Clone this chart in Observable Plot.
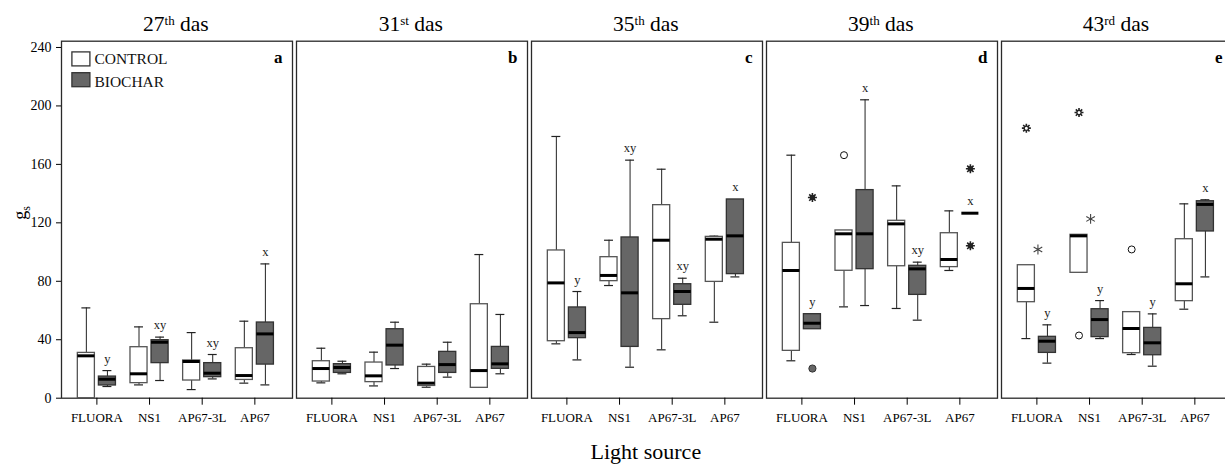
<!DOCTYPE html>
<html><head><meta charset="utf-8">
<script src="https://cdn.jsdelivr.net/npm/d3@7"></script>
<script src="https://cdn.jsdelivr.net/npm/@observablehq/plot@0.6"></script>
<style>
body{margin:0;overflow:hidden;background:#fff;}
#wrap{position:relative;width:1225px;height:467px;overflow:hidden;background:#fff;}
#wrap svg{max-width:none !important;font-family:"Liberation Serif","Times New Roman",serif;background:#fff;}
</style></head><body><div id="wrap"></div>
<script>
// ---------- data ----------
const dayNumbers = ["27", "31", "35", "39", "43"];
const daySuffixes = ["th", "st", "th", "th", "rd"];
const dayWord = "das";
const panelLetters = ["a", "b", "c", "d", "e"];
const sources = ["FLUORA", "NS1", "AP67-3L", "AP67"];
const treatments = ["CONTROL", "BIOCHAR"];
const yTicks = [0, 40, 80, 120, 160, 200, 240];
const yLabel = "gs";
const xLabel = "Light source";

// [lower whisker, Q1, median, Q3, upper whisker] per light source
const control27 = [[0, 0, 29, 31, 61.8], [9.1, 10.3, 16.7, 34.9, 48.8], [5.9, 12.1, 25.1, 25.8, 44.9], [10.3, 12.5, 15.5, 34.2, 52.7]];
const biochar27 = [[8.0, 8.7, 13.0, 14.8, 18.9], [12.1, 24.0, 38.3, 39.7, 41.8], [13.2, 14.4, 17.1, 24.0, 29.9], [9.1, 23.0, 44.0, 51.8, 91.9]];
const control31 = [[10.5, 11.4, 20.3, 25.3, 34.2], [8.4, 11.0, 15.3, 24.4, 31.5], [7.5, 8.4, 10.3, 21.4, 23.3], [7.1, 7.1, 18.9, 64.3, 98.3]];
const biochar31 = [[16.7, 17.3, 21.0, 23.3, 25.3], [20.3, 22.4, 36.3, 47.2, 52.0], [14.4, 17.3, 23.0, 31.7, 38.3], [16.7, 20.1, 23.5, 35.1, 57.3]];
const control35 = [[37.2, 39.0, 78.9, 101.1, 179.1], [77.1, 80.1, 84.0, 96.5, 108.1], [33.1, 54.1, 108.1, 132.1, 156.7], [52.0, 79.6, 108.8, 110.4, 110.9]];
const biochar35 = [[26.2, 41.1, 44.9, 62.1, 73.0], [21.2, 35.1, 72.1, 110.0, 162.9], [56.4, 63.9, 73.0, 78.0, 82.1], [83.0, 84.9, 111.1, 136.0, 136.0]];
const control39 = [[25.6, 32.4, 87.4, 106.3, 166.3], [62.5, 87.2, 112.5, 114.8, 114.8], [61.4, 90.3, 119.3, 121.4, 145.3], [87.4, 89.7, 94.9, 112.9, 128.2]];
const biochar39 = [[47.2, 47.2, 51.3, 57.5, 57.5], [63.4, 88.3, 112.5, 142.4, 204.2], [53.4, 70.7, 88.5, 90.6, 93.1], [126.6, 126.6, 126.6, 126.6, 126.6]];
const control43 = [[40.8, 65.7, 75.1, 91.0, 91.0], [85.8, 85.8, 111.1, 111.8, 111.8], [29.9, 30.8, 47.7, 58.9, 58.9], [60.9, 66.4, 78.3, 108.8, 133.0]];
const biochar43 = [[24.0, 31.0, 39.0, 42.0, 50.2], [40.8, 41.8, 53.8, 60.9, 66.8], [21.9, 29.4, 37.9, 48.1, 57.7], [83.0, 114.1, 132.6, 134.8, 135.8]];

// significance letters for the BIOCHAR boxes
const letters27 = ["y", "xy", "xy", "x"];
const letters31 = ["", "", "", ""];
const letters35 = ["y", "xy", "xy", "x"];
const letters39 = ["y", "x", "xy", "x"];
const letters43 = ["y", "y", "y", "x"];

// outliers / extremes
const outlierDay = ["39", "39", "39", "39", "39", "43", "43", "43", "43", "43", "43"];
const outlierSource = ["FLUORA", "FLUORA", "NS1", "AP67", "AP67", "FLUORA", "FLUORA", "NS1", "NS1", "NS1", "AP67-3L"];
const outlierGroup = ["BIOCHAR", "BIOCHAR", "CONTROL", "BIOCHAR", "BIOCHAR", "CONTROL", "MID", "CONTROL", "CONTROL", "MID", "CONTROL"];
const outlierValue = [137.3, 20.3, 166.3, 157.0, 104.3, 184.8, 101.8, 195.5, 42.9, 122.7, 101.8];
const outlierKind = ["star", "filled", "open", "star", "star", "flower", "asterisk", "flower", "open", "asterisk", "open"];

// ---------- styling / layout ----------
const W = 1232, H = 467, ML = 60.4, MT = 40.7, MB = 69.3;
const groupOffset = {CONTROL: -0.2, BIOCHAR: 0.2, MID: 0.02};
const halfBox = 0.162, halfCap = 0.085;
const boxFill = {CONTROL: "#ffffff", BIOCHAR: "#666666"};
const boxStroke = {CONTROL: "#555555", BIOCHAR: "#333333"};

const days = dayNumbers.map((n, i) => `${n}${daySuffixes[i]} ${dayWord}`);
const stats = [[control27, biochar27], [control31, biochar31], [control35, biochar35], [control39, biochar39], [control43, biochar43]];
const letters = [letters27, letters31, letters35, letters39, letters43];

const rows = [];
days.forEach((day, di) => {
  treatments.forEach((t, ti) => {
    sources.forEach((s, si) => {
      const [lo, q1, med, q3, hi] = stats[di][ti][si];
      const xc = si + groupOffset[t];
      rows.push({day, source: s, treatment: t, xc, x1: xc - halfBox, x2: xc + halfBox, lo, q1, med, q3, hi,
        letter: t === "BIOCHAR" ? letters[di][si] : ""});
    });
  });
});
const outliers = outlierValue.map((v, i) => ({
  day: days[dayNumbers.indexOf(outlierDay[i])],
  x: sources.indexOf(outlierSource[i]) + groupOffset[outlierGroup[i]],
  value: v, kind: outlierKind[i]
}));
const spiky = outliers.filter(d => d.kind === "star" || d.kind === "flower");

const chart = Plot.plot({
  width: W, height: H,
  marginLeft: ML, marginRight: 0, marginTop: MT, marginBottom: MB,
  fx: {domain: days, paddingInner: 0.01765, paddingOuter: 0, axis: null},
  x: {type: "linear", domain: [-0.672, 3.715]},
  y: {domain: [0, 244.3]},
  marks: [
    Plot.frame({stroke: "#2a2a2a", strokeWidth: 1.3}),
    Plot.axisY({ticks: yTicks, tickSize: 5, tickPadding: 5, fontSize: 14, label: null}),
    Plot.axisX({ticks: sources.map((s, i) => i), tickFormat: i => sources[i], tickSize: 7, tickPadding: 8, fontSize: 13, label: null}),
    // whiskers
    Plot.ruleX(rows.filter(d => d.lo < d.q1), {fx: "day", x: "xc", y1: "lo", y2: "q1", stroke: "#222", strokeWidth: 1}),
    Plot.ruleX(rows.filter(d => d.hi > d.q3), {fx: "day", x: "xc", y1: "q3", y2: "hi", stroke: "#222", strokeWidth: 1}),
    Plot.ruleY(rows.filter(d => d.lo < d.q1), {fx: "day", y: "lo", x1: d => d.xc - halfCap, x2: d => d.xc + halfCap, stroke: "#222", strokeWidth: 1.2}),
    Plot.ruleY(rows.filter(d => d.hi > d.q3), {fx: "day", y: "hi", x1: d => d.xc - halfCap, x2: d => d.xc + halfCap, stroke: "#222", strokeWidth: 1.2}),
    // boxes
    Plot.rect(rows, {fx: "day", x1: "x1", x2: "x2", y1: "q1", y2: "q3", fill: d => boxFill[d.treatment], stroke: d => boxStroke[d.treatment], strokeWidth: 1.3}),
    // medians
    Plot.ruleY(rows, {fx: "day", y: "med", x1: "x1", x2: "x2", stroke: "#000", strokeWidth: 3}),
    // significance letters
    Plot.text(rows.filter(d => d.letter), {fx: "day", x: "xc", y: "hi", text: "letter", dy: -12, lineAnchor: "middle", fontSize: 12.5, fill: "#222"}),
    // outliers
    Plot.dot(outliers.filter(d => d.kind === "open"), {fx: "day", x: "x", y: "value", r: 3.5, fill: "#fff", stroke: "#111", strokeWidth: 1}),
    Plot.dot(outliers.filter(d => d.kind === "filled"), {fx: "day", x: "x", y: "value", r: 3.6, fill: "#666", stroke: "#333", strokeWidth: 1}),
    Plot.dot(outliers.filter(d => d.kind === "asterisk"), {fx: "day", x: "x", y: "value", r: 4.7, symbol: "asterisk", stroke: "#444", strokeWidth: 1.1}),
    Plot.dot(spiky, {fx: "day", x: "x", y: "value", r: 3, symbol: "plus", stroke: "#222", strokeWidth: 1.6}),
    Plot.dot(spiky, {fx: "day", x: "x", y: "value", r: 3, symbol: "times", stroke: "#222", strokeWidth: 1.6}),
    Plot.dot(spiky, {fx: "day", x: "x", y: "value", r: 2.1, fill: d => d.kind === "star" ? "#222" : "#fff", stroke: "#222", strokeWidth: 1.2}),
    // panel letters
    Plot.text(days, {fx: d => d, text: (d, i) => panelLetters[i], frameAnchor: "top-right", dx: -10, dy: 9.4, lineAnchor: "top", fontSize: 17, fontWeight: "bold"}),
    // facet titles
    Plot.text(days, {fx: d => d, x: (sources.length - 1) / 2, text: d => d, frameAnchor: "top", lineAnchor: "bottom", dy: -10, fontSize: 21.5}),
    // y label
    Plot.text([days[0]], {fx: d => d, text: () => yLabel, frameAnchor: "left", rotate: -90, dx: -41, lineAnchor: "middle", fontSize: 18}),
    // x label
    Plot.text([days[Math.floor(days.length / 2)]], {fx: d => d, x: (sources.length - 1) / 2, text: () => xLabel, frameAnchor: "bottom", lineAnchor: "bottom", dy: 61, fontSize: 22})
  ]
});
document.getElementById("wrap").appendChild(chart);

const allText = d3.select(chart).selectAll("text");
// superscripts in facet titles
allText.filter(function () { return days.includes(this.textContent) && this.childElementCount === 0; }).each(function () {
  const t = d3.select(this);
  const m = /^(\d+)(\D+?) (.*)$/.exec(t.text());
  if (!m) return;
  t.text(null);
  t.append("tspan").text(m[1]);
  t.append("tspan").attr("font-size", 13).attr("dy", -6).text(m[2]);
  t.append("tspan").attr("dy", 6).text(" " + m[3]);
});
// subscript in y label
allText.filter(function () { return this.textContent === yLabel && this.childElementCount === 0; }).each(function () {
  const t = d3.select(this);
  const s = t.text();
  t.text(null);
  t.append("tspan").text(s[0]);
  t.append("tspan").attr("font-size", 12).attr("dy", 4).text(s.slice(1));
});
// legend inside panel a
const lg = d3.select(chart).append("g").attr("font-size", 15.5).attr("text-anchor", "start");
treatments.forEach((t, i) => {
  lg.append("rect").attr("x", ML + 11.5).attr("y", MT + 11.2 + i * 20.8).attr("width", 18).attr("height", 14)
    .attr("fill", boxFill[t]).attr("stroke", "#333").attr("stroke-width", 1.3);
  lg.append("text").attr("x", ML + 34).attr("y", MT + 23.7 + i * 22.4).attr("fill", "#111").text(t);
});
</script></body></html>
